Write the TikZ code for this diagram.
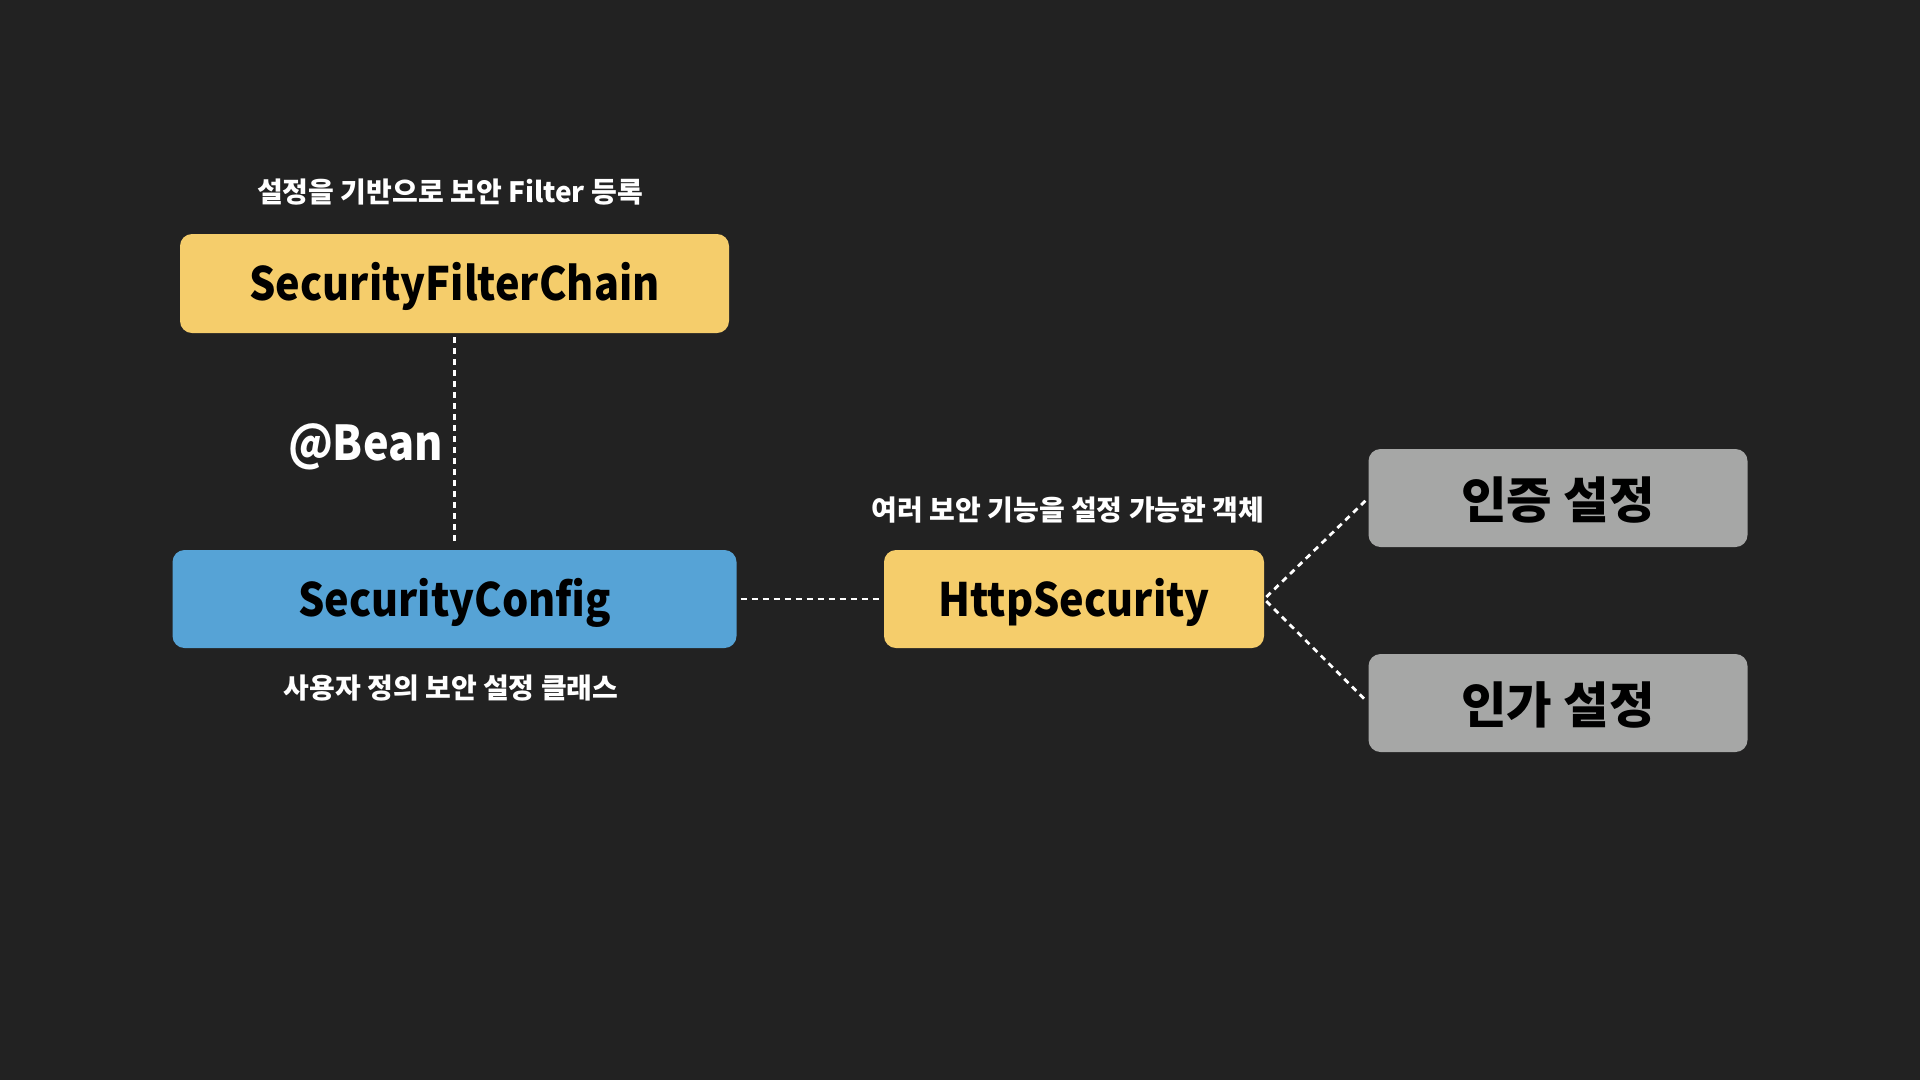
\documentclass[tikz,border=0pt]{standalone}
\usepackage{fontspec}
\setmainfont{Noto Sans CJK KR}
\newfontfamily\latinbox[FakeStretch=0.9]{Noto Sans CJK KR}
\definecolor{bg}{HTML}{222222}
\definecolor{ylw}{HTML}{F5CD6B}
\definecolor{blu}{HTML}{56A3D6}
\definecolor{gry}{HTML}{A6A7A6}
\tikzset{
  box/.style={rounded corners=12pt, inner sep=0pt, text=black},
  latbox/.style={box, text height=44pt, text depth=10pt, font=\latinbox\bfseries\fontsize{46}{50}\selectfont},
  korbox/.style={box, text height=45pt, text depth=5pt, font=\bfseries\fontsize{49.5}{54}\selectfont},
  captxt/.style={text=white, inner sep=0pt, font=\bfseries\fontsize{28}{32}\selectfont},
  link/.style={draw=white, line width=2.8pt, dash pattern=on 6pt off 5pt, shorten <=4pt, shorten >=4pt}
}
\begin{document}
\begin{tikzpicture}[x=1pt,y=-1pt]
\fill[bg] (0,0) rectangle (1920,1080);
\useasboundingbox (0,0) rectangle (1920,1080);
\node[latbox, fill=ylw, minimum width=549pt, minimum height=99pt] (sfc) at (454.5,283.5) {SecurityFilterChain};
\node[captxt] (t1) at (450,192) {설정을 기반으로 보안 Filter 등록};
\node[latbox, fill=blu, minimum width=564pt, minimum height=98pt] (sc) at (454.5,599) {SecurityConfig};
\node[captxt] (t2) at (451,688) {사용자 정의 보안 설정 클래스};
\node[text=white, inner sep=0pt, anchor=east, font=\latinbox\bfseries\fontsize{48}{52}\selectfont] (bean) at (443,447) {@Bean};
\node[latbox, fill=ylw, minimum width=380pt, minimum height=98pt] (http) at (1074,599) {HttpSecurity};
\node[captxt] (t3) at (1068,510) {여러 보안 기능을 설정 가능한 객체};
\node[korbox, fill=gry, minimum width=379pt, minimum height=98pt] (authn) at (1558,498) {인증 설정};
\node[korbox, fill=gry, minimum width=379pt, minimum height=98pt] (authz) at (1558,703) {인가 설정};
\draw[link] (sfc.south) -- (sc.north);
\draw[link] (sc.east) -- (http.west);
\draw[link, shorten <=3pt] (http.east) -- (authn.west);
\draw[link, shorten <=3pt] (http.east) -- (authz.west);
\end{tikzpicture}
\end{document}
